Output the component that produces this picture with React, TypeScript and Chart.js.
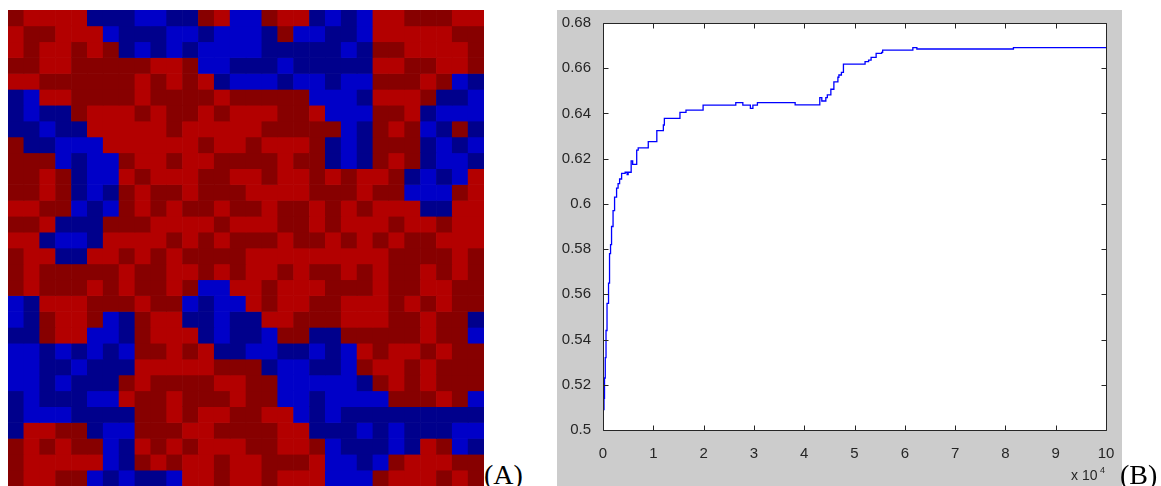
import React, { useEffect, useRef } from "react";
import { Chart, registerables } from "chart.js";

Chart.register(...registerables);

// Panel A: 30x30 lattice of states (R = red, D = dark red, B = blue, b = dark blue), row 0 at the top
const gridRows: string[] = [
  "DRRRRbbbBBbbDRB" + "BDRRbBbBRRDDDRR",
  "RDDRRRBbbbBBbBB" + "BbDBBbbBRRRRRDD",
  "RDRRDRDbBbBbBBB" + "BbbbbbBbDDRRRRD",
  "DDRRDDDDDRRDBBb" + "bbBbbbbbRRDDRRD",
  "RRDDDDDDRDRDRbB" + "BBbBBbBBDDDRDBb",
  "bBRRDDDDRDDDDRD" + "DDDDBBBbRRRDbbB",
  "bBbbDRRRDRDDRDR" + "RRDDRBBBDDRbBBB",
  "bbBbbRRRRRDRRRR" + "RDDDDDBbDRDBbDb",
  "DbbBBBRRRRRRDRR" + "DRRRDbBbDDDbBbB",
  "DDDBbBBDRRDRRDD" + "DDRDDbBbDRDbBBb",
  "DDRDbBBRDRRRDDR" + "RDRRDRDRRDbBbBR",
  "DDRDbBbDRDDRDDD" + "RRRRDDDRDDBBBDR",
  "RRDDBbBDRDRDDRD" + "DRDDRDRDRRRbbRR",
  "DDRbbbDDDRRRRDR" + "RRDDRDRRRDRRDRR",
  "RRbBBbRRRRDRDRD" + "DDRDDRDRDRDDRRR",
  "DRRbbRRDRDRDDDD" + "RRRRRRRRRDDDDRD",
  "DRDDDDDRDDRRDRD" + "RRDRDDRDRDDRDRD",
  "DRDDDRDRDDRDBBR" + "RDRRRDDDRDDRRDD",
  "BbRRRDDDRDDBbBB" + "RDRRDDRRRDRDRDD",
  "BbDRRDBbDRRbbBb" + "bRRDDDRRRDDRDDb",
  "bbDRRBBbDRRRbBb" + "bBDDbbDDDDDRDDB",
  "BBbBbBbBDDRDRbb" + "BBbbBbBRDRRDRDD",
  "BBbbBbbbRRRRRDD" + "DbBBbbBDRRDRDDD",
  "BBbBbbbDRDDDDRR" + "DDBBBBBbDRDRDDD",
  "bBbbbBBRDDRDDDR" + "DDBBbBBBBDDDRDB",
  "bBBBbbbbDDRDRRD" + "DRRBbBbbbbbbbbb",
  "bRRDDbBBDDDRRDD" + "DDRRbbbBbBbbbBB",
  "DRDRDDBbRDRDRRR" + "DDRRDBbbbBbRDBb",
  "DRRRRRBbDRDRRDR" + "RDDDRBBbBDRRRDD",
  "DRRDDBbBbbBRRDR" + "RDRRRBBBDRRRDRD",
];

const stateColors: Record<string, string> = {
  R: "#B30000",
  D: "#870000",
  B: "#0000C8",
  b: "#00008C",
};

// Panel B: best fitness vs. iteration (stair line)
const iterations: number[] = [
  0, 200, 300, 450, 600, 800, 1100, 1300, 1500, 1700, 2000, 2300, 2700, 3000, 3300, 3700,
  4400, 4800, 5000, 5600, 5900, 6700, 7000, 9000, 10700, 12000, 12200, 15300, 16500, 19900,
  26400, 27800, 29300, 29800, 30700, 38200, 43100, 43500, 44300, 44600, 45300, 45900, 46700,
  46900, 47400, 47800, 52100, 52800, 53300, 54300, 55400, 55600, 61600, 62400, 81600, 81700,
  100000,
];
const fitness: number[] = [
  0.507, 0.509, 0.514, 0.523, 0.532, 0.544, 0.556, 0.565, 0.578, 0.582, 0.59, 0.597, 0.603,
  0.607, 0.609, 0.611, 0.6135, 0.614, 0.613, 0.614, 0.619, 0.6175, 0.6238, 0.6248, 0.6275,
  0.6324, 0.6349, 0.6378, 0.6405, 0.6415, 0.6437, 0.6448, 0.6437, 0.6422, 0.6437, 0.6448,
  0.6438, 0.647, 0.6455, 0.647, 0.6482, 0.6507, 0.654, 0.656, 0.657, 0.6582, 0.6618, 0.6629,
  0.6636, 0.6648, 0.6666, 0.667, 0.668, 0.6691, 0.6685, 0.6691, 0.6691,
];

const xTicks: number[] = [0, 10000, 20000, 30000, 40000, 50000, 60000, 70000, 80000, 90000, 100000];
const yTicks: number[] = [0.5, 0.52, 0.54, 0.56, 0.58, 0.6, 0.62, 0.64, 0.66, 0.68];

const AXIS_COLOR = "#262626";
const TICK_FONT = { family: "'Liberation Sans', Arial, sans-serif", size: 15 };

const framePlugin = {
  id: "matlabFrame",
  beforeDraw(chart: any) {
    const { ctx, chartArea: a } = chart;
    ctx.save();
    ctx.fillStyle = "#FFFFFF";
    ctx.fillRect(a.left, a.top, a.right - a.left, a.bottom - a.top);
    ctx.restore();
  },
  afterDraw(chart: any) {
    const { ctx, chartArea: a, scales } = chart;
    const L = Math.round(a.left) + 0.5;
    const R = Math.round(a.right) + 0.5;
    const T = Math.round(a.top) + 0.5;
    const B = Math.round(a.bottom) + 0.5;
    const len = 5;
    ctx.save();
    ctx.strokeStyle = AXIS_COLOR;
    ctx.lineWidth = 1;
    ctx.beginPath();
    ctx.moveTo(L, T);
    ctx.lineTo(R, T);
    ctx.lineTo(R, B);
    ctx.lineTo(L, B);
    ctx.closePath();
    xTicks.forEach((v) => {
      const px = Math.round(scales.x.getPixelForValue(v)) + 0.5;
      ctx.moveTo(px, B);
      ctx.lineTo(px, B - len);
      ctx.moveTo(px, T);
      ctx.lineTo(px, T + len);
    });
    yTicks.forEach((v) => {
      const py = Math.round(scales.y.getPixelForValue(v)) + 0.5;
      ctx.moveTo(L, py);
      ctx.lineTo(L + len, py);
      ctx.moveTo(R, py);
      ctx.lineTo(R - len, py);
    });
    ctx.stroke();
    ctx.restore();
  },
};

export default function App() {
  const heatRef = useRef<HTMLCanvasElement | null>(null);
  const lineRef = useRef<HTMLCanvasElement | null>(null);

  useEffect(() => {
    const heatCanvas = heatRef.current;
    const lineCanvas = lineRef.current;
    if (!heatCanvas || !lineCanvas) return;

    const columnLabels = gridRows[0].split("").map((_, i) => String(i));
    const heat = new Chart(heatCanvas, {
      type: "bar",
      data: {
        labels: columnLabels,
        datasets: gridRows.map((row, r) => ({
          label: "row " + r,
          data: row.split("").map(() => 1),
          backgroundColor: row.split("").map((c) => stateColors[c]),
          borderWidth: 0,
          barPercentage: 1,
          categoryPercentage: 1,
          stack: "grid",
        })),
      },
      options: {
        responsive: false,
        animation: false,
        devicePixelRatio: 1,
        layout: { padding: 0 },
        plugins: { legend: { display: false }, tooltip: { enabled: false } },
        scales: {
          x: { stacked: true, display: false },
          y: { stacked: true, display: false, reverse: true, min: 0, max: gridRows.length },
        },
      },
    });

    const line = new Chart(lineCanvas, {
      type: "line",
      data: {
        datasets: [
          {
            label: "fitness",
            data: iterations.map((x, i) => ({ x, y: fitness[i] })),
            borderColor: "#0000FF",
            borderWidth: 1.3,
            pointRadius: 0,
            stepped: "after",
            fill: false,
          },
        ],
      },
      options: {
        responsive: false,
        animation: false,
        devicePixelRatio: 1,
        layout: { padding: { top: 13, right: 16, left: 0, bottom: 0 } },
        plugins: { legend: { display: false }, tooltip: { enabled: false } },
        scales: {
          x: {
            type: "linear",
            min: 0,
            max: 100000,
            grid: { display: false },
            border: { display: false },
            afterBuildTicks: (scale: any) => {
              scale.ticks = xTicks.map((value) => ({ value }));
            },
            afterFit: (scale: any) => {
              scale.height = 56;
            },
            ticks: {
              autoSkip: false,
              maxRotation: 0,
              padding: 7,
              color: AXIS_COLOR,
              font: TICK_FONT,
              callback: (v: any) => String(Number(v) / 10000),
            },
          },
          y: {
            type: "linear",
            min: 0.5,
            max: 0.68,
            grid: { display: false },
            border: { display: false },
            afterBuildTicks: (scale: any) => {
              scale.ticks = yTicks.map((value) => ({ value }));
            },
            afterFit: (scale: any) => {
              scale.width = 46;
            },
            ticks: {
              autoSkip: false,
              padding: 4,
              color: AXIS_COLOR,
              font: TICK_FONT,
              callback: (v: any) => String(parseFloat(Number(v).toFixed(2))),
            },
          },
        },
      },
      plugins: [framePlugin],
    });

    return () => {
      heat.destroy();
      line.destroy();
    };
  }, []);

  const serif = "'Liberation Serif', 'Times New Roman', serif";
  const sans = "'Liberation Sans', Arial, sans-serif";

  return (
    <div
      style={{
        position: "absolute",
        left: 0,
        top: 0,
        width: 1161,
        height: 486,
        overflow: "hidden",
        background: "#FFFFFF",
      }}
    >
      <canvas
        ref={heatRef}
        width={476}
        height={476}
        style={{ position: "absolute", left: 8, top: 10, width: 476, height: 476 }}
      />
      <div
        style={{
          position: "absolute",
          left: 484,
          top: 461,
          fontFamily: serif,
          fontSize: 28,
          lineHeight: "28px",
          whiteSpace: "nowrap",
          color: "#000",
        }}
      >
        (A)
      </div>
      <div
        style={{
          position: "absolute",
          left: 557,
          top: 10,
          width: 565,
          height: 476,
          background: "#CCCCCC",
        }}
      >
        <canvas ref={lineRef} width={565} height={476} style={{ display: "block", width: 565, height: 476 }} />
      </div>
      <div
        style={{
          position: "absolute",
          left: 1071,
          top: 468,
          fontFamily: sans,
          fontSize: 14,
          lineHeight: "14px",
          whiteSpace: "nowrap",
          color: AXIS_COLOR,
        }}
      >
        x 10
      </div>
      <div
        style={{
          position: "absolute",
          left: 1100,
          top: 466,
          fontFamily: sans,
          fontSize: 9,
          lineHeight: "9px",
          whiteSpace: "nowrap",
          color: AXIS_COLOR,
        }}
      >
        4
      </div>
      <div
        style={{
          position: "absolute",
          left: 1120,
          top: 461,
          fontFamily: serif,
          fontSize: 28,
          lineHeight: "28px",
          whiteSpace: "nowrap",
          color: "#000",
        }}
      >
        (B)
      </div>
    </div>
  );
}
